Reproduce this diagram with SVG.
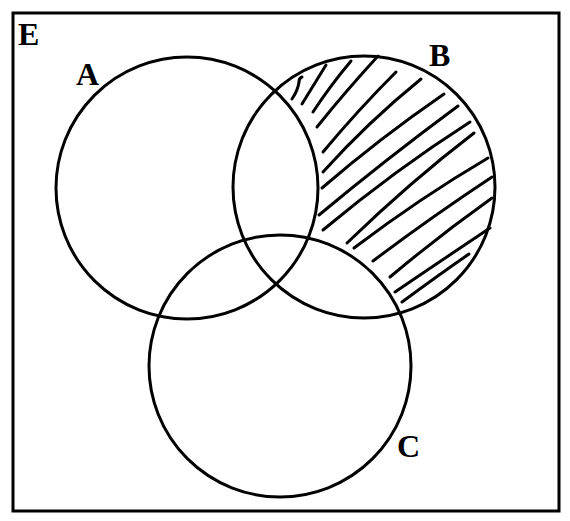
<svg xmlns="http://www.w3.org/2000/svg" width="570" height="521" viewBox="0 0 570 521">
<style>
.c{fill:none;stroke:#000;stroke-width:3}
.h{fill:none;stroke:#000;stroke-width:3;stroke-linecap:round}
.t{font-family:"Liberation Serif",serif;font-weight:bold;font-size:32px;fill:#000}
</style>
<rect x="0" y="0" width="570" height="521" fill="#fff"/>
<g id="E"><rect class="c" x="13" y="13" width="546" height="498"/><text class="t" x="18" y="45">E</text></g>
<g id="hatch">
<path class="h" d="M292,99 Q298,90 299,82 Q299,78 302,77"/>
<path class="h" d="M302,104 L326,65"/>
<path class="h" d="M313,112 Q330,86 351,61"/>
<path class="h" d="M317,127 Q345,92 378,56"/>
<path class="h" d="M323,152 Q358,110 396,72"/>
<path class="h" d="M323,172 Q368,122 421,79"/>
<path class="h" d="M322,188 Q380,138 444,94"/>
<path class="h" d="M319,215 Q385,160 458,106"/>
<path class="h" d="M323,230 Q395,170 470,122"/>
<path class="h" d="M347,243 Q410,182 474,133"/>
<path class="h" d="M354,248 Q420,198 488,158"/>
<path class="h" d="M373,261 Q430,218 492,177"/>
<path class="h" d="M390,277 Q440,235 492,198"/>
<path class="h" d="M395,292 Q445,258 490,228"/>
<path class="h" d="M402,302 Q440,274 469,254"/>
</g>
<g id="A"><circle class="c" cx="187" cy="188" r="131"/><text class="t" x="76" y="85">A</text></g>
<g id="B"><circle class="c" cx="364" cy="187" r="131"/><text class="t" x="429" y="66">B</text></g>
<g id="C"><circle class="c" cx="280" cy="366" r="131"/><text class="t" x="397" y="457">C</text></g>
</svg>
